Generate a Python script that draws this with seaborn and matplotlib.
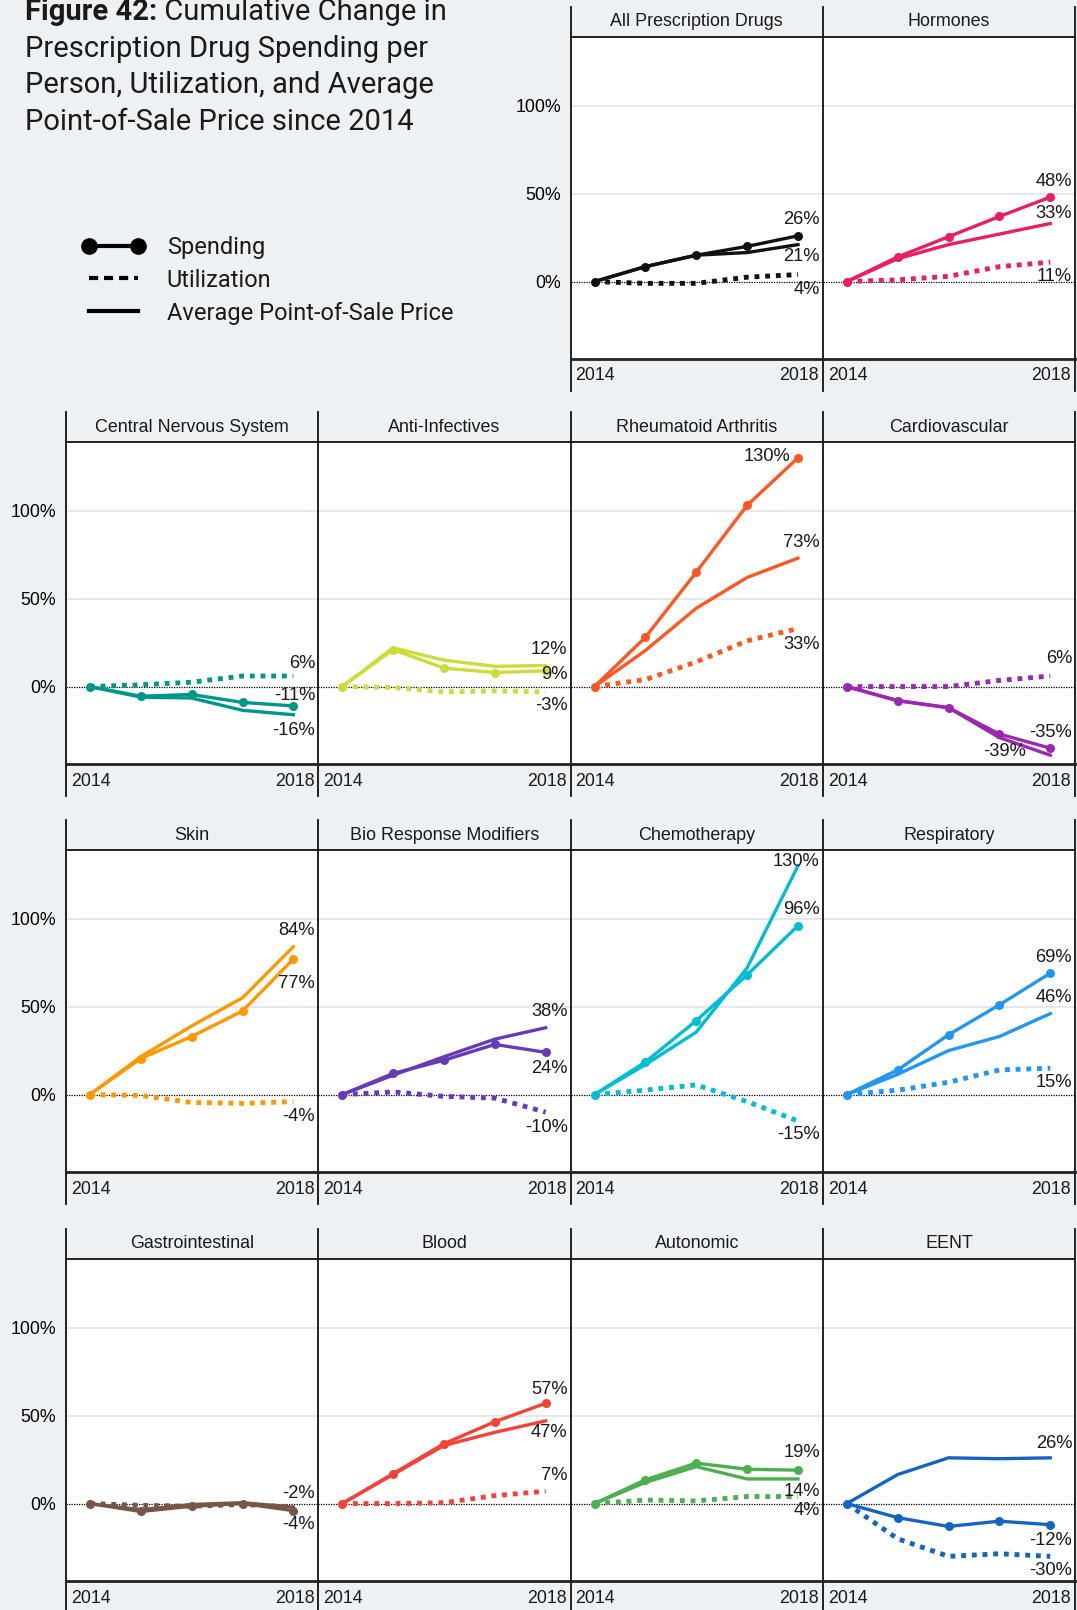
import numpy as np
import pandas as pd
import seaborn as sns
import matplotlib.pyplot as plt
from matplotlib.lines import Line2D

# cumulative % change since 2014
years = [2014, 2015, 2016, 2017, 2018]

categories = ["All Prescription Drugs", "Hormones",
              "Central Nervous System", "Anti-Infectives", "Rheumatoid Arthritis", "Cardiovascular",
              "Skin", "Bio Response Modifiers", "Chemotherapy", "Respiratory",
              "Gastrointestinal", "Blood", "Autonomic", "EENT"]

spending = [[0, 8.5, 15, 20, 26], [0, 14, 25.5, 37, 48],
            [0, -5.5, -4.5, -9, -11], [0, 21, 10.5, 8, 9], [0, 28, 65, 103, 130], [0, -8, -12, -27, -35],
            [0, 20.5, 33, 47.5, 77], [0, 12, 19.5, 28.5, 24], [0, 18.5, 42, 68, 96], [0, 14, 34, 51, 69],
            [0, -4.5, -1.5, 0, -4], [0, 17, 34, 46.5, 57], [0, 13.5, 23, 19.5, 19], [0, -8, -13, -10, -12]]

utilization = [[0, -1, -1, 2.5, 4], [0, 1, 3, 8.5, 11],
               [0, 1, 2.5, 6, 6], [0, -0.5, -3, -2.5, -3], [0, 4, 14, 26, 33], [0, 0, 0, 3.5, 6],
               [0, -0.5, -4.5, -5, -4], [0, 1.5, -1, -2, -10], [0, 2.5, 5.5, -4, -15], [0, 2.5, 7, 14, 15],
               [0, -1, -1.5, -0.5, -2], [0, 0, 0.5, 4.5, 7], [0, 2, 1.5, 4, 4], [0, -20, -30, -28.5, -30]]

price = [[0, 8.5, 15, 16.5, 21], [0, 13, 21, 27, 33],
         [0, -6, -6.5, -13.5, -16], [0, 22, 15, 11.5, 12], [0, 20.5, 44.5, 62, 73], [0, -8, -12, -29, -39],
         [0, 21.5, 39, 55, 84], [0, 11, 21.5, 31.5, 38], [0, 17, 35.5, 72, 130], [0, 11.5, 25, 33, 46],
         [0, -3.5, -0.5, 0.5, -2], [0, 16.5, 33, 40.5, 47], [0, 12, 21, 14, 14], [0, 16.5, 26, 25.5, 26]]

colors = ["#111111", "#e91e63",
          "#009688", "#cddc39", "#ff5722", "#9c27b0",
          "#ff9800", "#673ab7", "#00bcd4", "#2196f3",
          "#795548", "#f44336", "#4caf50", "#1565c0"]

# end-label vertical nudges (spending, utilization, price), in % units
label_dy = [(9, -8.5, -7), (9, -8, 5.5),
            (6, 7, -9), (-2, -8, 9), (1, -9, 9), (9, 10, 2),
            (-14, -8.5, 9.5), (-9, -8.5, 9), (9, -7.5, 2.5), (9, -8, 9),
            (-8, None, 8), (8, 9, -6.6), (10, -8, -7), (-9, -8, 8)]
label_x = {(4, 0): (2017.85, "right"), (5, 2): (2017.1, "center")}

BG = "#eef1f4"
W, H = 1077, 1610
plt.rcParams["font.family"] = ["Liberation Sans", "DejaVu Sans"]
plt.rcParams["text.color"] = "#1a1a1a"

fig = plt.figure(figsize=(W / 100, H / 100), dpi=100, facecolor=BG)

row_tops = [7, 412, 820, 1229]
panel_w, strip_h, plot_h = 252.3, 30, 322
x0 = 66

for i, name in enumerate(categories):
    if i < 2:
        row, col = 0, i + 2
    else:
        row, col = (i - 2) // 4 + 1, (i - 2) % 4
    first = (i == 0) or (col == 0)
    left = x0 + col * panel_w
    top = row_tops[row] + strip_h
    ax = fig.add_axes([left / W, 1 - (top + plot_h) / H, panel_w / W, plot_h / H])
    ax.set_facecolor("white")
    c = colors[i]

    for g in (50, 100):
        ax.axhline(g, color="#e3e7ec", lw=1.3, zorder=0)
    ax.axhline(0, color="black", lw=0.9, ls=(0, (1, 1)), zorder=1)

    sns.lineplot(x=years, y=price[i], ax=ax, color=c, lw=2.4, zorder=3)
    sns.lineplot(x=years, y=utilization[i], ax=ax, color=c, lw=3.5,
                 linestyle=(0, (1, 1.2)), dash_capstyle="butt", zorder=3)
    sns.lineplot(x=years, y=spending[i], ax=ax, color=c, lw=2.4, marker="o",
                 markersize=6.5, markeredgewidth=0, zorder=4)

    ax.set_xlim(2013.53, 2018.49)
    ax.set_ylim(-44, 139)
    ax.set_xlabel("")
    ax.set_ylabel("")
    ax.set_xticks([])
    ax.set_yticks([0, 50, 100])
    if first:
        ax.set_yticklabels(["0%", "50%", "100%"], fontsize=12.8)
    else:
        ax.set_yticklabels([])
    ax.tick_params(axis="y", length=0, pad=7)

    for s in ("left", "right"):
        ax.spines[s].set_visible(False)
    ax.spines["top"].set_color("#111111")
    ax.spines["top"].set_linewidth(1.3)
    ax.spines["bottom"].set_color("#222222")
    ax.spines["bottom"].set_linewidth(2.0)

    ext_lo, ext_hi = -32 / plot_h, 1 + strip_h / plot_h
    ax.plot([0, 0], [ext_lo, ext_hi], transform=ax.transAxes, color="#111111",
            lw=1.3, clip_on=False)
    if col == 3:
        ax.plot([1, 1], [ext_lo, ext_hi], transform=ax.transAxes, color="#111111",
                lw=1.3, clip_on=False)

    ax.text(0.5, 1 + (strip_h / 2) / plot_h, name, transform=ax.transAxes,
            ha="center", va="center", fontsize=12.9)
    ax.text(5 / panel_w, -17 / plot_h, "2014", transform=ax.transAxes,
            ha="left", va="center", fontsize=12.8)
    ax.text(1 - 4 / panel_w, -17 / plot_h, "2018", transform=ax.transAxes,
            ha="right", va="center", fontsize=12.8)

    for s, vals in enumerate([spending[i], utilization[i], price[i]]):
        dy = label_dy[i][s]
        if dy is None:
            continue
        lx, ha = label_x.get((i, s), (2018.43, "right"))
        ax.text(lx, vals[-1] + dy, f"{vals[-1]:.0f}%", ha=ha, va="center",
                fontsize=13.2, zorder=5)

# title
tfont = dict(family=["Roboto", "DejaVu Sans"], fontsize=21)
bold = fig.text(25 / W, 1 - 12.5 / H, "Figure 42:", va="center", ha="left",
                fontweight="bold", **tfont)
r = fig.canvas.get_renderer()
bb = bold.get_window_extent(r)
fig.text(bb.x1 / W, 1 - 12.5 / H, " Cumulative Change in", va="center", ha="left", **tfont)
for k, line in enumerate(["Prescription Drug Spending per",
                          "Person, Utilization, and Average",
                          "Point-of-Sale Price since 2014"]):
    fig.text(25 / W, 1 - (12.5 + 36.4 * (k + 1)) / H, line, va="center", ha="left", **tfont)

# legend
handles = [Line2D([], [], color="black", lw=3, marker="o", markersize=11),
           Line2D([], [], color="black", lw=3, linestyle=(0, (2.2, 1.4))),
           Line2D([], [], color="black", lw=3)]
fig.legend(handles, ["Spending", "Utilization", "Average Point-of-Sale Price"],
           loc="upper left", bbox_to_anchor=(70 / W, 1 - 224 / H), frameon=False,
           numpoints=2, handlelength=2.7, handletextpad=0.9, labelspacing=0.42,
           borderpad=0, prop=dict(family=["Roboto", "DejaVu Sans"], size=17))

fig.savefig("out.png", dpi=100, facecolor=BG)
